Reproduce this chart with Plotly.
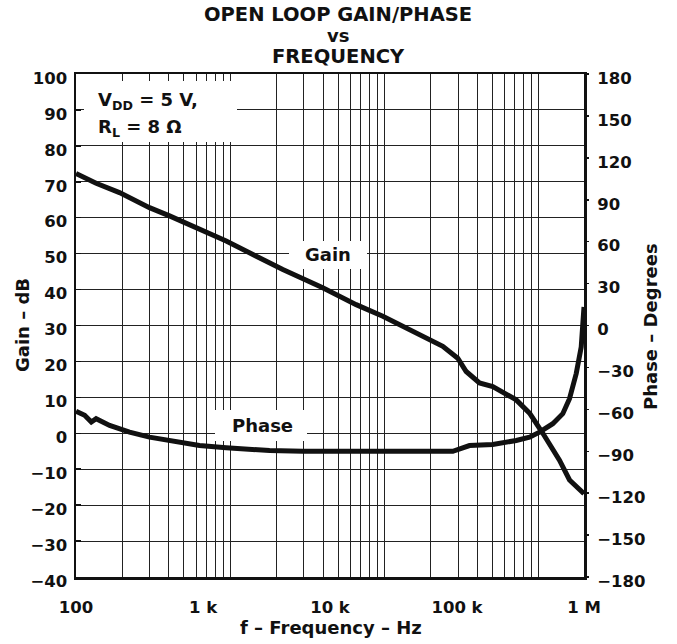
import plotly.graph_objects as go

# ---------------- data ----------------
freq_gain = [100, 144, 220, 379, 545, 884, 1523, 2624, 4250, 8770, 16070, 26060,
             37430, 53800, 77300, 101400, 118100, 150300, 191300, 292600, 372600,
             474000, 641000, 769000, 1000000]
gain_db = [72.3, 69.6, 67.0, 62.8, 60.5, 57.3, 53.5, 49.3, 45.6, 40.5, 35.8, 32.6,
           29.8, 27.0, 24.2, 20.9, 17.2, 14.0, 13.0, 9.3, 5.6, 0.0, -7.5, -13.0, -16.8]

freq_phase = [100, 117, 132, 144, 184, 264, 379, 545, 938, 1523, 3340, 6110, 92700,
              125400, 191300, 292600, 372600, 446700, 567700, 680900, 769000,
              868800, 950800, 1000000]
phase_deg = [-61.3, -64.3, -69.1, -66.7, -71.5, -76.3, -79.9, -82.3, -85.9, -87.5,
             -89.5, -90.0, -90.0, -85.9, -85.2, -82.3, -79.9, -76.3, -70.3, -63.1,
             -52.4, -34.4, -15.4, 13.3]

x_tickvals = [100, 1000, 10000, 100000, 1000000]
x_ticktext = ["100", "1 k", "10 k", "100 k", "1 M"]
gain_ticks = list(range(-40, 101, 10))
gain_ticktext = [("\u2212" + str(-v)) if v < 0 else str(v) for v in gain_ticks]
phase_ticks = list(range(-180, 181, 30))
phase_ticktext = [("\u2212" + str(-v)) if v < 0 else str(v) for v in phase_ticks]
grid_vals = [m * d for d in (1, 10, 100) for m in range(2, 11)]

# ---------------- geometry helpers (pixels -> paper fraction) ----------------
W, H = 677, 644
L, R, T, B = 76, 584, 74, 577


def pxx(p):
    return (p - L) / (R - L)


def pxy(p):
    return (B - p) / (B - T)


FONT = "DejaVu Sans, Liberation Sans, Arial"
INK = "#111111"

fig = go.Figure()
# invisible carrier so that the grid axis (x2) is drawn
fig.add_trace(go.Scatter(x=[grid_vals[0], grid_vals[-1]], y=[gain_ticks[0]] * 2,
                         mode="lines", line=dict(width=0, color="rgba(0,0,0,0)"),
                         xaxis="x2", yaxis="y", showlegend=False, hoverinfo="skip"))
fig.add_trace(go.Scatter(x=freq_gain, y=gain_db, mode="lines",
                         line=dict(color=INK, width=5), xaxis="x", yaxis="y",
                         showlegend=False, hoverinfo="skip"))
fig.add_trace(go.Scatter(x=freq_phase, y=phase_deg, mode="lines",
                         line=dict(color=INK, width=5), xaxis="x", yaxis="y2",
                         showlegend=False, hoverinfo="skip"))

fig.update_layout(
    width=W, height=H,
    margin=dict(l=L, r=W - R, t=T, b=H - B),
    paper_bgcolor="white", plot_bgcolor="white",
    font=dict(family=FONT, color=INK),
    showlegend=False,
    xaxis=dict(type="log", range=[2, 6], tickvals=x_tickvals, ticktext=x_ticktext,
               showgrid=False, zeroline=False, ticks="", ticklabelstandoff=14,
               showline=True, linewidth=2.5, linecolor=INK, mirror=True,
               tickfont=dict(size=16.5, family=FONT, weight="bold")),
    xaxis2=dict(type="log", range=[0, 3.294], overlaying="x", anchor="y",
                tickvals=grid_vals, showticklabels=False, ticks="",
                showgrid=True, gridcolor="#222222", gridwidth=1,
                zeroline=False, showline=False),
    yaxis=dict(range=[-40, 100], tickvals=gain_ticks, ticktext=gain_ticktext,
               showgrid=True, gridcolor="#222222", gridwidth=1, zeroline=False,
               ticks="inside", ticklen=5, tickwidth=1.5, tickcolor=INK,
               ticklabelstandoff=3, ticklabelshift=4,
               showline=True, linewidth=2.5, linecolor=INK, mirror=True,
               tickfont=dict(size=16.5, family=FONT, weight="bold")),
    yaxis2=dict(range=[-180, 180], tickvals=phase_ticks, ticktext=phase_ticktext,
                overlaying="y", side="right", showgrid=False, zeroline=False,
                ticks="outside", ticklen=4, tickwidth=1.5, tickcolor=INK,
                ticklabelstandoff=5, ticklabelshift=4, showline=False,
                tickfont=dict(size=16.5, family=FONT, weight="bold")),
)

bold = dict(family=FONT, color=INK, weight="bold")


def ann(text, x, y, size, xanchor="center", yanchor="middle", angle=0, **kw):
    fig.add_annotation(text=text, x=pxx(x), y=pxy(y), xref="paper", yref="paper",
                       showarrow=False, xanchor=xanchor, yanchor=yanchor,
                       textangle=angle, font=dict(size=size, **bold), **kw)


# white label boxes that hide the grid behind the in-plot labels
for x0, x1, y0, y1 in [(84, 237, 81, 142), (289, 367, 241, 269), (215, 307, 410, 441)]:
    ann("\u00a0", x0, y0, 10, xanchor="left", yanchor="top",
        width=x1 - x0, height=y1 - y0, bgcolor="white", borderpad=0, borderwidth=0)

# title
ann("OPEN LOOP GAIN/PHASE", 338, 14, 19.5)
ann("vs", 338, 35, 18)
ann("FREQUENCY", 338, 57, 19.5)
# axis titles
ann("f \u2013 Frequency \u2013 Hz", 331, 627, 18)
ann("Gain \u2013 dB", 22, 325, 18, angle=-90)
ann("Phase \u2013 Degrees", 650, 327, 18, angle=-90)
# in-plot labels
ann("V<sub>DD</sub> = 5 V,", 96, 101, 18, xanchor="left")
ann("R<sub>L</sub> = 8 \u03a9", 96, 128, 18, xanchor="left")
ann("Gain", 328, 254, 18)
ann("Phase", 262, 425, 18)

fig.write_html("out.html",
               config={"displayModeBar": False, "staticPlot": True},
               post_script="document.body.style.margin='0';"
                           "document.body.style.overflow='hidden';")
